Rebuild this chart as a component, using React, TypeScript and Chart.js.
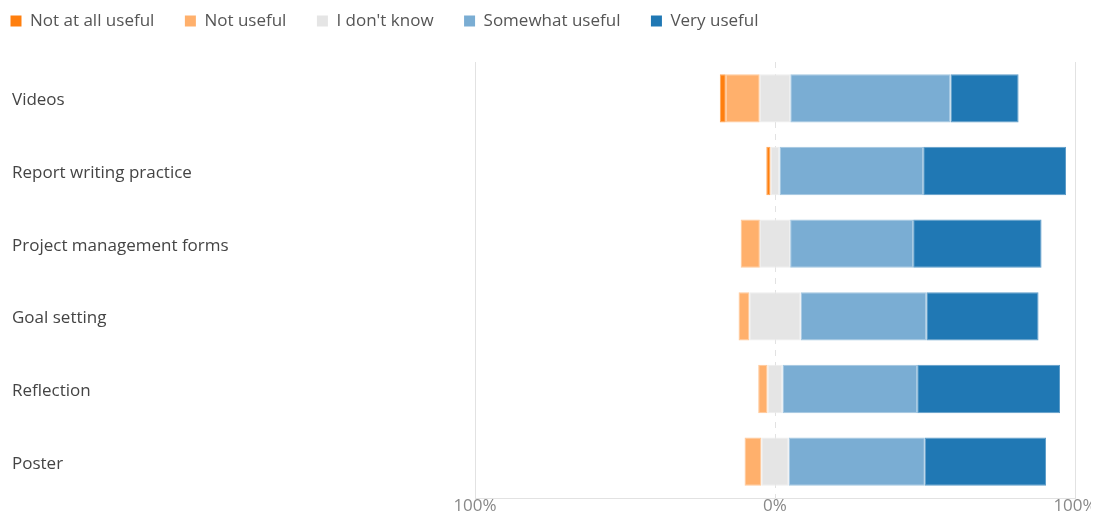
import React, { useEffect, useRef } from "react";
import { Chart, registerables } from "chart.js";

Chart.register(...registerables);

const categories = [
  "Videos",
  "Report writing practice",
  "Project management forms",
  "Goal setting",
  "Reflection",
  "Poster",
];
const notAtAllUseful = [2.0, 1.4, 0, 0, 0, 0];
const notUseful = [11.3, 0, 6.4, 3.6, 3.1, 5.6];
const dontKnow = [10.2, 3.0, 10.1, 17.1, 5.0, 9.1];
const somewhatUseful = [53.4, 47.9, 41.0, 41.9, 44.9, 45.4];
const veryUseful = [22.7, 47.6, 42.8, 37.4, 47.6, 40.4];
const xTicks = [-100, 0, 100];

const seriesNames = ["Not at all useful", "Not useful", "I don't know", "Somewhat useful", "Very useful"];
const seriesColors = ["#ff7f0e", "#ffb06c", "#e5e5e5", "#7aadd3", "#2078b4"];
const seriesEdges = ["#ffa556", "#ffc898", "#ededed", "#a2c6e0", "#5d9cc8"];

const FONT = "'Open Sans', 'Noto Sans', sans-serif";

function buildRanges() {
  const rows = categories.map((_, i) => {
    const d = dontKnow[i] / 2;
    const nu0 = -d - notUseful[i];
    const na0 = nu0 - notAtAllUseful[i];
    const sw1 = d + somewhatUseful[i];
    const vu1 = sw1 + veryUseful[i];
    return [
      notAtAllUseful[i] ? [na0, nu0] : null,
      notUseful[i] ? [nu0, -d] : null,
      dontKnow[i] ? [-d, d] : null,
      somewhatUseful[i] ? [d, sw1] : null,
      veryUseful[i] ? [sw1, vu1] : null,
    ];
  });
  return seriesNames.map((_, s) => rows.map((r) => r[s]));
}

const legendShift = {
  id: "legendShift",
  afterLayout(chart: any) {
    const lg = chart.legend;
    if (lg) {
      lg.left -= 32;
      lg.top -= 26;
    }
  },
};

export default function App() {
  const ref = useRef<HTMLCanvasElement | null>(null);
  useEffect(() => {
    if (!ref.current) return;
    const ranges = buildRanges();
    const chart = new Chart(ref.current, {
      type: "bar",
      data: {
        labels: categories,
        datasets: seriesNames.map((name, s) => ({
          label: name,
          data: ranges[s] as any,
          backgroundColor: seriesColors[s],
          borderColor: seriesEdges[s],
          borderWidth: 1,
          borderSkipped: false,
          grouped: false,
          barPercentage: 0.665,
          categoryPercentage: 1,
        })),
      },
      plugins: [legendShift],
      options: {
        indexAxis: "y",
        animation: false,
        responsive: true,
        maintainAspectRatio: false,
        layout: { padding: { left: 4, right: 24, top: 0, bottom: 0 } },
        plugins: {
          tooltip: { enabled: false },
          legend: {
            position: "top",
            align: "start",
            maxHeight: 54,
            labels: {
              boxWidth: 11,
              boxHeight: 11,
              padding: 30.5,
              color: "#555555",
              font: { family: FONT, size: 17 },
              generateLabels: (chart: any) =>
                chart.data.datasets.map((ds: any, i: number) => ({
                  text: ds.label,
                  fillStyle: seriesColors[i],
                  strokeStyle: seriesColors[i],
                  lineWidth: 0,
                  hidden: false,
                  datasetIndex: i,
                  fontColor: "#555555",
                })),
            },
          },
        },
        scales: {
          x: {
            type: "linear",
            min: -100,
            max: 100,
            afterBuildTicks: (scale: any) => {
              scale.ticks = xTicks.map((v) => ({ value: v }));
            },
            afterFit: (scale: any) => {
              scale.paddingRight = 0;
              scale.height = 22;
            },
            ticks: {
              padding: -2,
              color: "#888888",
              font: { family: FONT, size: 17 },
              callback: (v: any) => Math.abs(Number(v)) + "%",
            },
            grid: {
              color: "#e2e2e2",
              lineWidth: 1,
              drawTicks: false,
            },
            border: {
              display: true,
              color: "#e2e2e2",
              dash: (ctx: any) => (ctx.tick && ctx.tick.value === 0 ? [6, 6] : []),
            },
          },
          y: {
            type: "category",
            afterFit: (scale: any) => {
              scale.width = 463;
            },
            ticks: {
              crossAlign: "far",
              padding: 0,
              labelOffset: 2,
              color: "#444444",
              font: { family: FONT, size: 17 },
            },
            grid: { display: false },
            border: { display: false },
          },
        },
      },
    });
    return () => chart.destroy();
  }, []);
  return (
    <>
      <style>{`html, body { overflow: hidden; }`}</style>
      <div style={{ width: 1091, height: 512, position: "relative" }}>
        <canvas ref={ref} />
      </div>
    </>
  );
}
